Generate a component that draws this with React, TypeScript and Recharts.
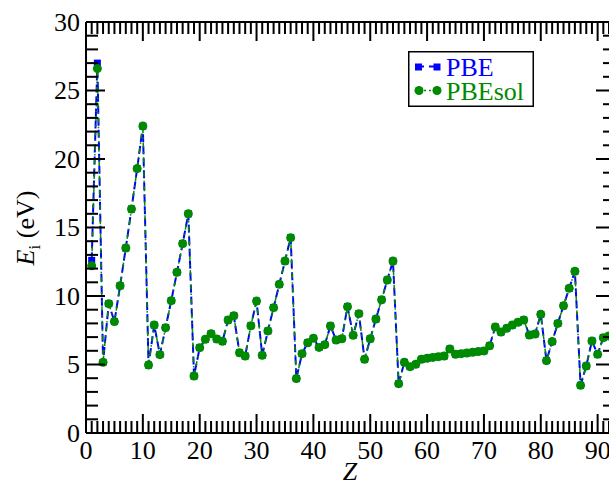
import React from 'react';
import { LineChart, Line, XAxis, YAxis, ReferenceLine } from 'recharts';

const Z = [
  1, 2, 3, 4, 5, 6, 7, 8, 9, 10, 11, 12, 13, 14, 15, 16, 17, 18, 19, 20,
  21, 22, 23, 24, 25, 26, 27, 28, 29, 30, 31, 32, 33, 34, 35, 36, 37, 38, 39, 40,
  41, 42, 43, 44, 45, 46, 47, 48, 49, 50, 51, 52, 53, 54, 55, 56, 57, 58, 59, 60,
  61, 62, 63, 64, 65, 66, 67, 68, 69, 70, 71, 72, 73, 74, 75, 76, 77, 78, 79, 80,
  81, 82, 83, 84, 85, 86, 87, 88, 89, 90, 91, 92,
];

const PBE = [
  12.6, 27.0, 5.16, 9.44, 8.13, 10.75, 13.5, 16.35, 19.3, 22.4,
  4.96, 7.88, 5.72, 7.69, 9.66, 11.73, 13.82, 16.0, 4.16, 6.23,
  6.84, 7.25, 6.86, 6.69, 8.25, 8.56, 5.86, 5.62, 7.83, 9.63,
  5.67, 7.45, 9.15, 10.85, 12.55, 14.26, 3.97, 5.79, 6.59, 6.91,
  6.25, 6.45, 7.81, 6.79, 6.88, 9.22, 7.13, 8.71, 5.38, 6.88,
  8.32, 9.73, 11.17, 12.55, 3.6, 5.16, 4.84, 5.01, 5.38, 5.45,
  5.52, 5.57, 5.62, 6.13, 5.74, 5.79, 5.84, 5.89, 5.94, 5.99,
  6.37, 7.74, 7.37, 7.64, 7.88, 8.08, 8.25, 7.15, 7.23, 8.66,
  5.28, 6.67, 8.0, 9.29, 10.56, 11.8, 3.48, 4.89, 6.72, 5.74,
  6.96, 7.08,
];

const PBESOL = [
  12.2, 26.6, 5.16, 9.44, 8.13, 10.75, 13.5, 16.35, 19.3, 22.4,
  4.96, 7.88, 5.72, 7.69, 9.66, 11.73, 13.82, 16.0, 4.16, 6.23,
  6.84, 7.25, 6.86, 6.69, 8.25, 8.56, 5.86, 5.62, 7.83, 9.63,
  5.67, 7.45, 9.15, 10.85, 12.55, 14.26, 3.97, 5.79, 6.59, 6.91,
  6.25, 6.45, 7.81, 6.79, 6.88, 9.22, 7.13, 8.71, 5.38, 6.88,
  8.32, 9.73, 11.17, 12.55, 3.6, 5.16, 4.84, 5.01, 5.38, 5.45,
  5.52, 5.57, 5.62, 6.13, 5.74, 5.79, 5.84, 5.89, 5.94, 5.99,
  6.37, 7.74, 7.37, 7.64, 7.88, 8.08, 8.25, 7.15, 7.23, 8.66,
  5.28, 6.67, 8.0, 9.29, 10.56, 11.8, 3.48, 4.89, 6.72, 5.74,
  6.96, 7.08,
];

const X_LABELS = [0, 10, 20, 30, 40, 50, 60, 70, 80, 90];
const Y_LABELS = [0, 5, 10, 15, 20, 25, 30];
const X_TICKS = Array.from({ length: 93 }, (_, i) => i);
const Y_TICKS = Array.from({ length: 31 }, (_, i) => i);

const SERIES_NAMES = ['PBE', 'PBEsol'];
const X_TITLE = 'Z';

const data = Z.map((z, i) => ({ z, pbe: PBE[i], pbesol: PBESOL[i] }));

const FONT = 'Liberation Serif, serif';
const BLUE = '#0000ff';
const GREEN = '#008a00';
const MAJOR = 19;
const MINOR = 12;
const FS = 26;

// layout of the plot area (shared by the chart margins and the tick-mark frame)
const W = 609;
const H = 484;
const PLOT_LEFT = 86;
const PLOT_TOP = 22;
const PLOT_RIGHT = 609;
const PLOT_BOTTOM = 433;
const X_MAX = 92;
const Y_MAX = 30;

const BottomLabel = (p: any) => {
  const v = p.payload.value;
  if (!X_LABELS.includes(v)) return <g />;
  return (
    <text x={p.x} y={PLOT_BOTTOM + 26} textAnchor="middle" fontFamily={FONT} fontSize={FS} fill="#000">
      {v}
    </text>
  );
};

const LeftLabel = (p: any) => {
  const v = p.payload.value;
  if (!Y_LABELS.includes(v)) return <g />;
  return (
    <text x={PLOT_LEFT - 6} y={p.y} dy="0.34em" textAnchor="end" fontFamily={FONT} fontSize={FS} fill="#000">
      {v}
    </text>
  );
};

const SquareDot = (p: any) => {
  if (p.cx == null || p.cy == null) return <g key={`e${p.index}`} />;
  return <rect key={`s${p.index}`} x={p.cx - 3.5} y={p.cy - 3.5} width={7} height={7} fill={BLUE} />;
};

const TickFrame = () => {
  const sx = (v: number) => PLOT_LEFT + (v / X_MAX) * (PLOT_RIGHT - PLOT_LEFT);
  const sy = (v: number) => PLOT_BOTTOM - (v / Y_MAX) * (PLOT_BOTTOM - PLOT_TOP);
  return (
    <svg width={W} height={H} style={{ position: 'absolute', left: 0, top: 0, pointerEvents: 'none' }}>
      {X_TICKS.map((v) => {
        const len = v % 10 === 0 ? MAJOR : MINOR;
        const x = sx(v);
        return (
          <g key={`x${v}`}>
            <rect x={x - 1} y={PLOT_BOTTOM - len} width={2} height={len} fill="#000" />
            <rect x={x - 1} y={PLOT_TOP} width={2} height={len} fill="#000" />
          </g>
        );
      })}
      {Y_TICKS.map((v) => {
        const len = v % 5 === 0 ? MAJOR : MINOR;
        const y = sy(v);
        return (
          <g key={`y${v}`}>
            <rect x={PLOT_LEFT} y={y - 1} width={len} height={2} fill="#000" />
            <rect x={PLOT_RIGHT - (len - 6)} y={y - 1} width={len - 6} height={2} fill="#000" />
          </g>
        );
      })}
    </svg>
  );
};

const LegendBox = () => (
  <svg width={126} height={56} style={{ display: 'block' }}>
    <rect x={0.75} y={0.75} width={124.5} height={54.5} fill="#fff" stroke="#000" strokeWidth={1.5} />
    <line x1={10} x2={29} y1={15.5} y2={15.5} stroke={BLUE} strokeWidth={2} strokeDasharray="6 5" />
    <rect x={7} y={12.5} width={7} height={7} fill={BLUE} />
    <rect x={25.5} y={12.5} width={7} height={7} fill={BLUE} />
    <text x={38} y={25} fontFamily={FONT} fontSize={FS} fill={BLUE}>{SERIES_NAMES[0]}</text>
    <line x1={11} x2={29} y1={39.5} y2={39.5} stroke={GREEN} strokeWidth={1.5} strokeDasharray="2 3" />
    <circle cx={11} cy={39.5} r={4.5} fill={GREEN} />
    <circle cx={29} cy={39.5} r={4.5} fill={GREEN} />
    <text x={38} y={48.5} fontFamily={FONT} fontSize={FS} fill={GREEN}>{SERIES_NAMES[1]}</text>
  </svg>
);

export default function App() {
  return (
    <div style={{ position: 'absolute', left: 0, top: 0, width: W, height: H, background: '#fff' }}>
      <LineChart
        width={W}
        height={H}
        data={data}
        margin={{ top: PLOT_TOP, right: W - PLOT_RIGHT, bottom: 0, left: PLOT_LEFT - 60 }}
      >
        <XAxis
          dataKey="z"
          type="number"
          domain={[0, X_MAX]}
          ticks={X_LABELS}
          interval={0}
          tickSize={0}
          tickMargin={0}
          tickLine={false}
          tick={BottomLabel}
          height={H - PLOT_BOTTOM}
          axisLine={{ stroke: '#000', strokeWidth: 2 }}
        />
        <YAxis
          type="number"
          domain={[0, Y_MAX]}
          ticks={Y_LABELS}
          interval={0}
          tickSize={0}
          tickMargin={0}
          tickLine={false}
          tick={LeftLabel}
          width={60}
          axisLine={{ stroke: '#000', strokeWidth: 2 }}
        />
        <ReferenceLine y={Y_MAX} stroke="#000" strokeWidth={2} />
        <Line
          dataKey="pbe"
          name={SERIES_NAMES[0]}
          stroke={BLUE}
          strokeWidth={2}
          strokeDasharray="8 4"
          dot={SquareDot}
          activeDot={false}
          isAnimationActive={false}
        />
        <Line
          dataKey="pbesol"
          name={SERIES_NAMES[1]}
          stroke={GREEN}
          strokeWidth={1.5}
          strokeDasharray="5 4 1.5 4"
          dot={{ r: 4.5, fill: GREEN, stroke: GREEN, strokeWidth: 0 }}
          activeDot={false}
          isAnimationActive={false}
        />
      </LineChart>
      <TickFrame />
      <div style={{ position: 'absolute', left: 408, top: 51, width: 126, height: 56 }}>
        <LegendBox />
      </div>
      <div
        style={{
          position: 'absolute', left: 325, top: 459, width: 50, height: 25, lineHeight: '26px',
          textAlign: 'center', fontFamily: FONT, fontSize: FS, fontStyle: 'italic', color: '#000',
        }}
      >
        {X_TITLE}
      </div>
      <div
        style={{
          position: 'absolute', left: -34, top: 213, width: 120, height: 30, lineHeight: '30px',
          textAlign: 'center', fontFamily: FONT, fontSize: FS, color: '#000', transform: 'rotate(-90deg)',
          whiteSpace: 'nowrap',
        }}
      >
        <span style={{ fontStyle: 'italic' }}>E</span>
        <span style={{ fontSize: 17, position: 'relative', top: 6 }}>i</span>
        <span> (eV)</span>
      </div>
    </div>
  );
}
